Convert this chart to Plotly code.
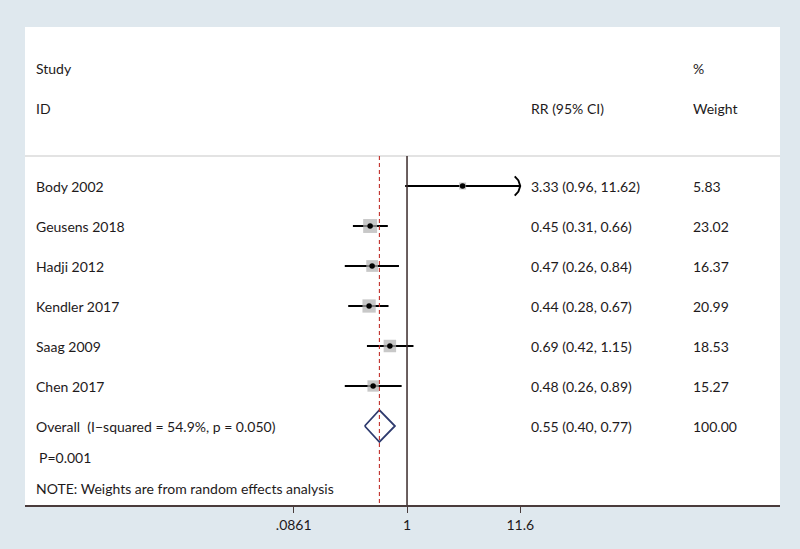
import math
import plotly.graph_objects as go

# study-level data
studies = ["Body 2002", "Geusens 2018", "Hadji 2012", "Kendler 2017", "Saag 2009", "Chen 2017"]
rr = [3.33, 0.45, 0.47, 0.44, 0.69, 0.48]
ci_low = [0.96, 0.31, 0.26, 0.28, 0.42, 0.26]
ci_high = [11.62, 0.66, 0.84, 0.67, 1.15, 0.89]
weights = [5.83, 23.02, 16.37, 20.99, 18.53, 15.27]

# pooled estimate
overall_label = "Overall  (I\u2212squared = 54.9%, p = 0.050)"
overall_rr, overall_low, overall_high = 0.55, 0.40, 0.77
overall_weight = 100.00
p_text = "P=0.001"
note_text = "NOTE: Weights are from random effects analysis"

tick_vals = [0.0861, 1, 11.6]
tick_text = [".0861", "1", "11.6"]

FONT = "Lato"
INK = "#1e1a1b"
x_max = max(tick_vals)

fig = go.Figure()
rows = list(range(1, len(studies) + 1))
overall_row = len(studies) + 1

# CI lines (clipped at axis max, arrow when clipped)
xs, ys = [], []
for r, lo, hi in zip(rows, ci_low, ci_high):
    xs += [lo, min(hi, x_max), None]
    ys += [r, r, None]
    if hi > x_max:
        back = x_max * math.exp(-0.12)
        mid = x_max * math.exp(-0.04)
        xs += [back, mid, x_max, mid, back, None]
        ys += [r - 0.24, r - 0.14, r, r + 0.14, r + 0.24, None]
fig.add_trace(go.Scatter(x=xs, y=ys, mode="lines", line=dict(color="black", width=1.9),
                         hoverinfo="skip", showlegend=False))

# weight boxes
fig.add_trace(go.Scatter(x=rr, y=rows, mode="markers",
                         marker=dict(symbol="square", color="#b0b0b0",
                                     size=[2.9 * math.sqrt(w) for w in weights], line=dict(width=0)),
                         hoverinfo="skip", showlegend=False))
# point estimates
fig.add_trace(go.Scatter(x=rr, y=rows, mode="markers",
                         marker=dict(symbol="circle", color="black", size=5.5), showlegend=False))

# overall diamond
fig.add_trace(go.Scatter(x=[overall_low, overall_rr, overall_high, overall_rr, overall_low],
                         y=[overall_row, overall_row - 0.4, overall_row, overall_row + 0.4, overall_row],
                         mode="lines", line=dict(color="#2e3a6e", width=1.8), showlegend=False))

y_top, y_bot = -2.975, 8.975
sep_y = 0.25

shapes = [
    dict(type="line", xref="paper", yref="y", x0=0, x1=1, y0=sep_y, y1=sep_y,
         line=dict(color="#c8c8c8", width=1.2)),
    dict(type="line", xref="x", yref="y", x0=1, x1=1, y0=sep_y, y1=y_bot,
         line=dict(color="#3a2a2a", width=1.5)),
    dict(type="line", xref="x", yref="y", x0=overall_rr, x1=overall_rr,
         y0=sep_y, y1=y_bot, line=dict(color="#c0302a", width=1.1, dash="4px,3px")),
]

ann = []
def txt(x, y, s):
    ann.append(dict(xref="paper", yref="y", x=x, y=y, text=s, showarrow=False,
                    xanchor="left", yanchor="middle", font=dict(family=FONT, size=14, color=INK)))

col_id, col_ci, col_w = 0.0119, 0.6675, 0.882
txt(col_id, -1.95, "Study")
txt(col_id, -0.95, "ID")
txt(col_ci, -0.95, "RR (95% CI)")
txt(col_w, -1.95, "%")
txt(col_w, -0.95, "Weight")
for r, name, e, lo, hi, w in zip(rows, studies, rr, ci_low, ci_high, weights):
    txt(col_id, r, name)
    txt(col_ci, r, f"{e:.2f} ({lo:.2f}, {hi:.2f})")
    txt(col_w, r, f"{w:.2f}")
txt(col_id, overall_row, overall_label)
txt(col_ci, overall_row, f"{overall_rr:.2f} ({overall_low:.2f}, {overall_high:.2f})")
txt(col_w, overall_row, f"{overall_weight:.2f}")
txt(0.0165, 7.775, p_text)
txt(col_id, 8.55, note_text)

fig.update_layout(
    width=800, height=549,
    margin=dict(l=25, r=20, t=27, b=44),
    paper_bgcolor="#dfe8ee", plot_bgcolor="white",
    shapes=shapes, annotations=ann,
    xaxis=dict(type="log", range=[-3.591, 3.506], tickvals=tick_vals, ticktext=tick_text,
               showgrid=False, zeroline=False, showline=True, linecolor="#4a3c3c", linewidth=1.5,
               ticks="outside", ticklen=6, tickcolor="#4a3c3c",
               tickfont=dict(family=FONT, size=14, color=INK)),
    yaxis=dict(range=[y_bot, y_top], visible=False, showgrid=False, zeroline=False),
)

fig.write_html("out.html", config={"displayModeBar": False},
               post_script="document.body.style.margin='0';")
